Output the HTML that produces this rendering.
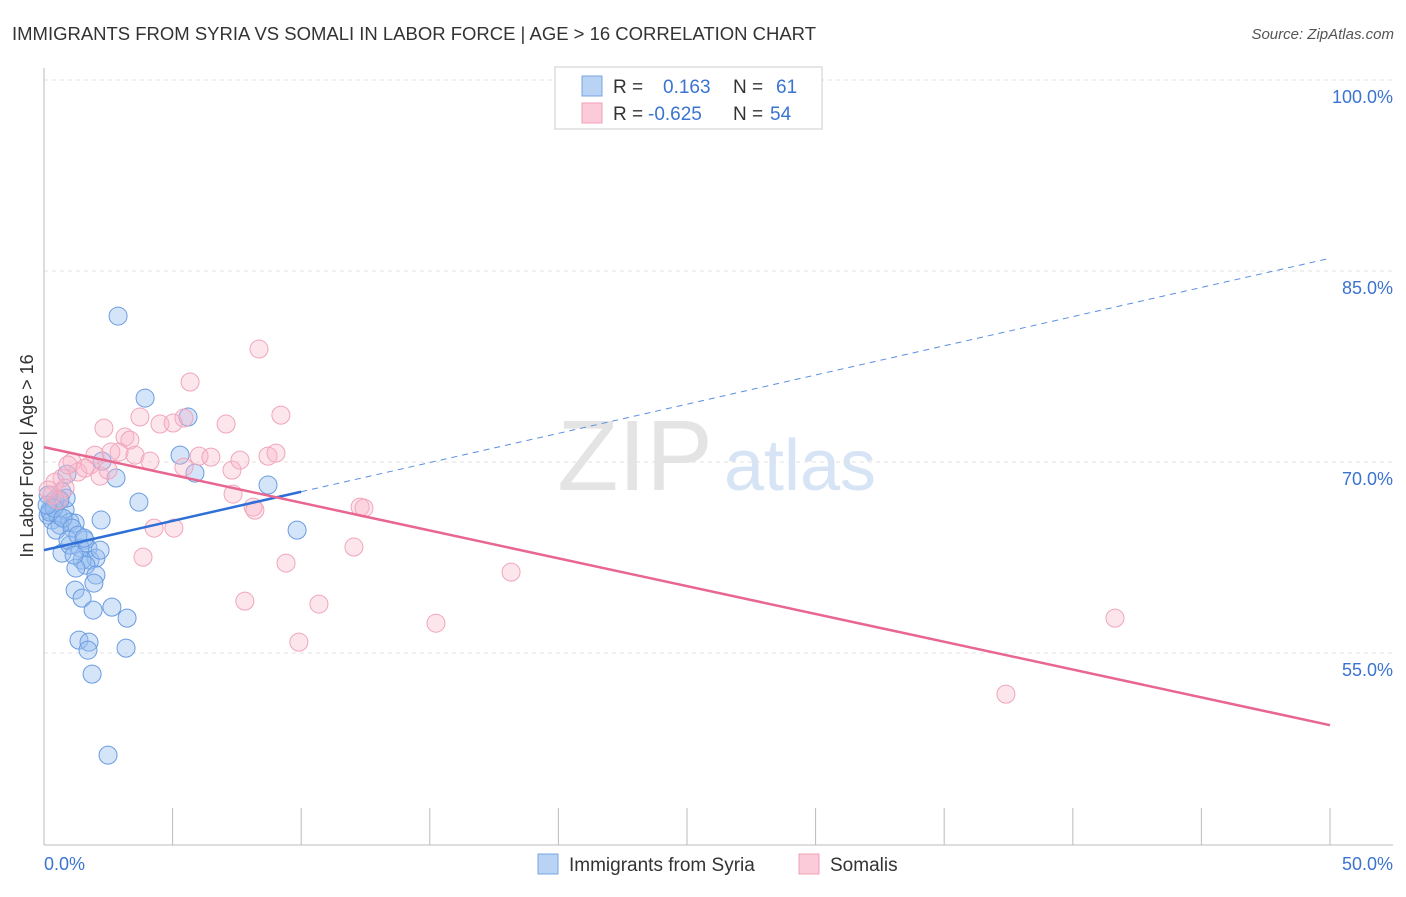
<!DOCTYPE html>
<html><head><meta charset="utf-8"><style>
body{margin:0;background:#fff;font-family:"Liberation Sans",sans-serif;}
svg text{font-family:"Liberation Sans",sans-serif;}
</style></head><body>
<svg id="chart" width="1406" height="892">
<text x="12" y="40" font-size="18" fill="#333" textLength="804" lengthAdjust="spacingAndGlyphs">IMMIGRANTS FROM SYRIA VS SOMALI IN LABOR FORCE | AGE &gt; 16 CORRELATION CHART</text>
<text x="1394" y="39" font-size="15" fill="#555" font-style="italic" text-anchor="end">Source: ZipAtlas.com</text>
<text x="635" y="490" font-size="100" fill="#e4e4e4" font-family="Liberation Serif" text-anchor="middle">ZIP</text>
<text x="800" y="490" font-size="72" fill="#d6e4f5" text-anchor="middle">atlas</text>
<g id="grid"></g>
<line x1="44" y1="68" x2="44" y2="845" stroke="#bbb"/>
<line x1="44" y1="845" x2="1393" y2="845" stroke="#bbb"/>
<g id="xticks"></g>
<text x="33" y="456" font-size="18" fill="#333" text-anchor="middle" transform="rotate(-90 33 456)">In Labor Force | Age &gt; 16</text>
<text x="44" y="870" font-size="18" fill="#3b73d0">0.0%</text>
<text x="1393" y="870" font-size="18" fill="#3b73d0" text-anchor="end">50.0%</text>
<g id="points"></g>
<g id="lines"></g>
<g>
<rect x="555" y="67" width="267" height="62" fill="#fff" stroke="#ccc"/>
<rect x="582" y="76" width="20" height="20" fill="#b9d3f5" stroke="#7aa5e0"/>
<rect x="582" y="103" width="20" height="20" fill="#fbcbd9" stroke="#f0a0b8"/>
<text x="613" y="93" font-size="19" fill="#333">R = </text><text x="663" y="93" font-size="19" fill="#3b73d0">0.163</text>
<text x="733" y="93" font-size="19" fill="#333">N = </text><text x="776" y="93" font-size="19" fill="#3b73d0">61</text>
<text x="613" y="120" font-size="19" fill="#333">R = </text><text x="648" y="120" font-size="19" fill="#3b73d0">-0.625</text>
<text x="733" y="120" font-size="19" fill="#333">N = </text><text x="770" y="120" font-size="19" fill="#3b73d0">54</text>
</g>
<g>
<rect x="538" y="854" width="20" height="20" fill="#b9d3f5" stroke="#7aa5e0"/>
<text x="569" y="871" font-size="19" fill="#333">Immigrants from Syria</text>
<rect x="799" y="854" width="20" height="20" fill="#fbcbd9" stroke="#f0a0b8"/>
<text x="830" y="871" font-size="19" fill="#333">Somalis</text>
</g>
</svg>
<script>
const yTicks=[100,85,70,55];
const yTickLabels=["100.0%","85.0%","70.0%","55.0%"];
const xTickVals=[0,5,10,15,20,25,30,35,40,45,50];
const syriaX=[2.88,3.93,5.6,5.29,5.87,2.8,2.26,0.89,0.7,3.69,8.71,2.22,9.84,0.43,0.23,0.16,0.31,0.54,0.82,1.01,0.62,1.21,0.86,0.47,0.7,1.59,1.71,1.4,1.79,2.02,1.48,1.63,1.24,2.02,1.21,1.48,1.94,1.91,2.64,3.23,1.36,1.75,1.71,3.19,1.87,2.49,0.43,0.16,0.62,1.01,2.18,0.23,0.39,0.12,0.74,1.09,0.93,1.32,1.56,1.17];
const syriaY=[81.46,75.02,73.53,70.54,69.13,68.74,70.07,69.05,67.64,66.85,68.19,65.44,64.65,66.61,66.22,65.83,65.44,65.83,66.22,65.28,65.04,65.2,67.16,64.65,62.84,63.86,63.24,63.24,62.29,62.45,62.29,61.9,61.67,61.12,59.94,59.31,60.49,58.37,58.6,57.74,56.01,55.85,55.22,55.38,53.34,46.98,67.01,67.4,67.01,63.47,63.08,66.06,66.38,66.61,65.59,64.81,63.86,64.26,64.02,62.69];
const somaliX=[8.36,5.68,3.73,5.44,4.51,5.02,7.08,9.21,2.33,3.15,3.34,2.92,1.98,2.6,3.54,4.12,5.44,6.03,6.49,7.31,8.71,9.02,7.62,1.09,1.32,1.79,1.59,2.18,0.7,0.43,0.31,7.35,8.13,8.2,12.29,12.44,4.28,5.05,3.85,9.41,12.05,7.81,10.69,9.91,18.16,15.24,41.64,37.4,0.82,0.54,0.16,2.49,0.93];
const somaliY=[78.87,76.28,73.53,73.45,72.98,73.06,72.98,73.68,72.66,71.96,71.72,70.78,70.54,70.78,70.54,70.07,69.6,70.46,70.38,69.36,70.46,70.7,70.15,69.99,69.21,69.76,69.52,68.89,68.74,68.42,67.4,67.48,66.46,66.22,66.46,66.38,64.81,64.81,62.53,62.06,63.32,59.07,58.84,55.85,61.35,57.34,57.74,51.77,67.95,67.01,67.8,69.36,69.76];
const syriaTrend=[63.08,86.0];
const somaliTrend=[71.17,49.33];
const syriaSolidEnd=10;

const NS="http://www.w3.org/2000/svg";
const xs=v=>44+v*25.72;
const ys=v=>80+(100-v)*12.733;
function mk(tag,attrs,parent){const e=document.createElementNS(NS,tag);for(const k in attrs)e.setAttribute(k,attrs[k]);parent.appendChild(e);return e;}
const grid=document.getElementById('grid');
yTicks.forEach((t,i)=>{
  const l=mk('line',{x1:44,x2:1393,y1:ys(t),y2:ys(t),stroke:'#e2e2e2','stroke-dasharray':'4,4'},grid);
  
  
  const tx=mk('text',{x:1393,y:ys(t)+23,'font-size':18,fill:'#3b73d0','text-anchor':'end'},grid);
  tx.textContent=yTickLabels[i];
  
  
});
const xt=document.getElementById('xticks');
xTickVals.forEach(v=>{
  const l=mk('line',{x1:xs(v),x2:xs(v),y1:808,y2:845,stroke:'#bbb'},xt);
  
  
});
const pts=document.getElementById('points');
syriaX.forEach((x,i)=>{
  const c=mk('circle',{cx:xs(x),cy:ys(syriaY[i]),r:9,fill:'rgba(150,190,240,0.4)',stroke:'#6a9be0','stroke-width':1},pts);
  
  
});
somaliX.forEach((x,i)=>{
  const c=mk('circle',{cx:xs(x),cy:ys(somaliY[i]),r:9,fill:'rgba(248,180,200,0.35)',stroke:'#f0a5bb','stroke-width':1},pts);
  
  
});
const ln=document.getElementById('lines');
const sy=x=>syriaTrend[0]+(syriaTrend[1]-syriaTrend[0])*x/50;
const l1=mk('line',{x1:xs(0),y1:ys(sy(0)),x2:xs(syriaSolidEnd),y2:ys(sy(syriaSolidEnd)),stroke:'#2f6fd6','stroke-width':2.5},ln);


const l2=mk('line',{x1:xs(syriaSolidEnd),y1:ys(sy(syriaSolidEnd)),x2:xs(50),y2:ys(sy(50)),stroke:'#5b8fe0','stroke-width':1,'stroke-dasharray':'6,5'},ln);


const l3=mk('line',{x1:xs(0),y1:ys(somaliTrend[0]),x2:xs(50),y2:ys(somaliTrend[1]),stroke:'#e8668f','stroke-width':2.5},ln);


</script>
</body></html>
